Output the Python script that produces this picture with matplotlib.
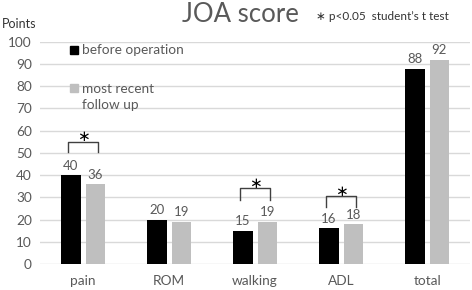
import matplotlib
matplotlib.use("Agg")
import matplotlib.pyplot as plt
import numpy as np

plt.rcParams['font.family'] = ['Lato', 'DejaVu Sans']

categories = ['pain', 'ROM', 'walking', 'ADL', 'total']
before_op = [40, 20, 15, 16, 88]
recent_fu = [36, 19, 19, 18, 92]
yticks = [0, 10, 20, 30, 40, 50, 60, 70, 80, 90, 100]

# significant pairs: (category index, bracket top, leg bottom)
sig_pairs = [(0, 55, 50.5), (2, 34, 29), (3, 30.5, 25.5)]

TXT = '#595959'
fig = plt.figure(figsize=(4.72, 2.90), dpi=100)
ax = fig.add_axes([0.085, 0.0897, 0.911, 0.766])

x = np.arange(len(categories))
w = 0.227
off = 0.143
ax.bar(x - off, before_op, w, color='black', zorder=3)
ax.bar(x + off, recent_fu, w, color='#bfbfbf', zorder=3)

for xi, v in zip(x - off, before_op):
    ax.text(xi, v + 1.5, str(v), ha='center', va='bottom', fontsize=9.5, color=TXT)
for xi, v in zip(x + off, recent_fu):
    ax.text(xi, v + 1.5, str(v), ha='center', va='bottom', fontsize=9.5, color=TXT)

for i, top, bot in sig_pairs:
    x0, x1 = i - off - 0.03, i + off + 0.03
    ax.plot([x0, x0, x1, x1], [bot, top, top, bot], color='#404040', lw=1.0, zorder=4)
    ax.text(i, top + 2.2, '∗', ha='center', va='center', fontsize=11,
            family='DejaVu Sans', color='black')

ax.set_xlim(-0.5, len(categories) - 0.5)
ax.set_ylim(0, 100)
ax.set_yticks(yticks)
ax.set_xticks(x)
ax.set_xticklabels(categories)
ax.tick_params(axis='both', length=0, labelsize=9.8, colors=TXT, pad=8)
ax.tick_params(axis='y', pad=6)
ax.grid(axis='y', color='#d9d9d9', lw=1, zorder=0)
for s in ax.spines.values():
    s.set_visible(False)

# legend drawn as text like the original
fig.patches.append(plt.Rectangle((70 / 472, 1 - 54 / 290), 8 / 472, 8 / 290,
                                 transform=fig.transFigure, color='black'))
fig.text(82 / 472, 1 - 50 / 290, 'before operation', fontsize=9.8, color=TXT, va='center')
fig.patches.append(plt.Rectangle((70 / 472, 1 - 92 / 290), 8 / 472, 8 / 290,
                                 transform=fig.transFigure, color='#bfbfbf'))
fig.text(82 / 472, 1 - 97 / 290, 'most recent\nfollow up', fontsize=9.8, color=TXT,
         va='center', linespacing=1.4)

fig.text(240 / 472, 1 - 15 / 290, 'JOA score', fontsize=18.5, color=TXT, ha='center', va='center')
fig.text(2 / 472, 1 - 24 / 290, 'Points', fontsize=9, color='#333333', va='center')
fig.text(316 / 472, 1 - 17 / 290, '∗ p<0.05  student’s t test', fontsize=8.5,
         color='#333333', va='center')

fig.savefig('out.png', dpi=100)
